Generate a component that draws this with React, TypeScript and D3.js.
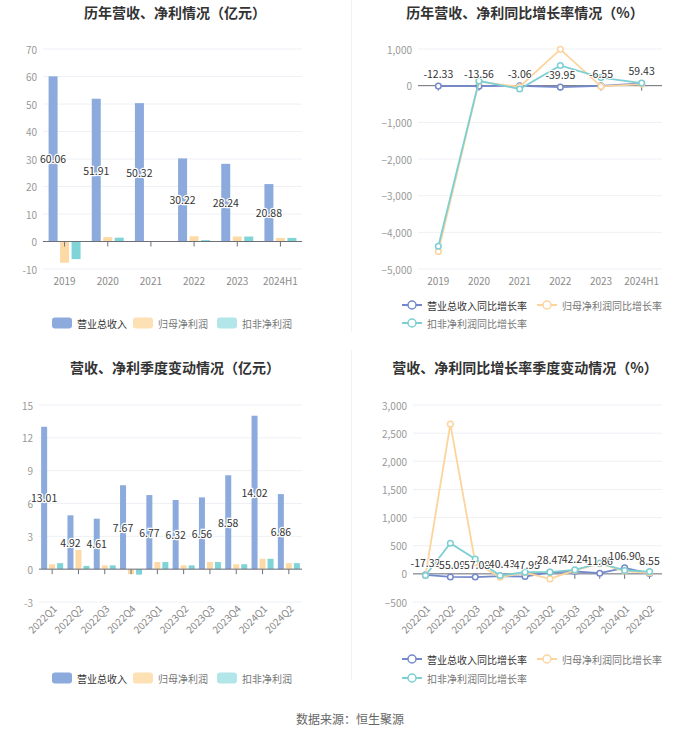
import React from "react";
import * as d3 from "d3";

const FONT = "'Noto Sans CJK SC', 'Noto Sans', sans-serif";

// yearly figures (亿元)
const years = ["2019", "2020", "2021", "2022", "2023", "2024H1"];
const yearRevenue = [60.06, 51.91, 50.32, 30.22, 28.24, 20.88];
const yearProfit = [-7.7, 1.6, 0.15, 1.9, 1.8, 1.3];
const yearDeduct = [-6.4, 1.4, 0.05, 0.5, 1.8, 1.3];

// yearly growth (%)
const yearRevenueGrowth = [-12.33, -13.56, -3.06, -39.95, -6.55, 59.43];
const yearProfitGrowth = [-4520, 110, -30, 990, -20, 40];
const yearDeductGrowth = [-4380, 130, -90, 550, 220, 70];

// quarterly figures (亿元)
const quarters = ["2022Q1", "2022Q2", "2022Q3", "2022Q4", "2023Q1", "2023Q2", "2023Q3", "2023Q4", "2024Q1", "2024Q2"];
const qRevenue = [13.01, 4.92, 4.61, 7.67, 6.77, 6.32, 6.56, 8.58, 14.02, 6.86];
const qProfit = [0.45, 1.75, 0.35, -0.45, 0.65, 0.35, 0.65, 0.45, 0.95, 0.55];
const qDeduct = [0.55, 0.3, 0.35, -0.5, 0.65, 0.35, 0.65, 0.45, 0.95, 0.55];

// quarterly growth (%)
const qRevenueGrowth = [-17.32, -55.09, -57.08, -40.43, -47.95, 28.47, 42.24, 11.86, 106.9, 8.55];
const qProfitGrowth = [-30, 2660, 200, -60, 20, -90, 60, 180, 50, 20];
const qDeductGrowth = [-30, 545, 265, -30, 30, 30, 70, 190, 60, 40];

const barNames = ["营业总收入", "归母净利润", "扣非净利润"];
const lineNames = ["营业总收入同比增长率", "归母净利润同比增长率", "扣非净利润同比增长率"];
const barColors = ["#8caadc", "#fddaa5", "#7fd4d7"];
const barLegendColors = ["#8caadc", "#fde0b4", "#b2e6e8"];
const lineColors = ["#7489cc", "#fcd49c", "#7ccfd3"];

const GRID = "#eef0f5";
const AXIS = "#6e7079";

type Box = { x0: number; x1: number; y0: number; y1: number };

function Title({ x, y, text }: { x: number; y: number; text: string }) {
  return (
    <text x={x} y={y} textAnchor="middle" dominantBaseline="central" fontSize={14} fontWeight="bold" fill="#333">
      {text}
    </text>
  );
}

function XLabels({ cats, xs, y, rotate }: { cats: string[]; xs: number[]; y: number; rotate: boolean }) {
  return (
    <g fontSize={10} fill="#8a8a8a">
      {cats.map((c, i) =>
        rotate ? (
          <text key={c} transform={`translate(${xs[i] + 3},${y + 5}) rotate(-45)`} textAnchor="end" dy="0.35em">
            {c}
          </text>
        ) : (
          <text key={c} x={xs[i]} y={y + 11} textAnchor="middle" dominantBaseline="central">
            {c}
          </text>
        )
      )}
    </g>
  );
}

function YAxis({ y, ticks, box, fmt }: { y: d3.ScaleLinear<number, number>; ticks: number[]; box: Box; fmt: (v: number) => string }) {
  return (
    <g>
      {ticks.map((t) => (
        <g key={t}>
          <line x1={box.x0} x2={box.x1} y1={y(t)} y2={y(t)} stroke={GRID} />
          <text x={box.x0 - 6} y={y(t)} textAnchor="end" dominantBaseline="central" fontSize={10} fill="#999">
            {fmt(t)}
          </text>
        </g>
      ))}
    </g>
  );
}

function BarPanel(props: {
  title: string;
  titleX: number;
  titleY: number;
  cats: string[];
  series: number[][];
  box: Box;
  domain: [number, number];
  step: number;
  barW: number;
  gap: number;
  rotate: boolean;
  legendY: number;
  legendX: number[];
}) {
  const { cats, series, box, domain, step, barW, gap } = props;
  const x = d3.scaleBand<string>().domain(cats).range([box.x0, box.x1]);
  const y = d3.scaleLinear().domain(domain).range([box.y1, box.y0]);
  const ticks = d3.range(domain[0], domain[1] + step / 2, step);
  const groupW = series.length * barW + (series.length - 1) * gap;
  const centers = cats.map((c) => (x(c) as number) + x.bandwidth() / 2);
  return (
    <g fontFamily={FONT}>
      <Title x={props.titleX} y={props.titleY} text={props.title} />
      <YAxis y={y} ticks={ticks} box={box} fmt={(v) => String(v)} />
      {series.map((vals, s) =>
        vals.map((v, i) => {
          const bx = centers[i] - groupW / 2 + s * (barW + gap);
          return (
            <rect key={`${s}-${i}`} x={bx} width={barW} y={Math.min(y(v), y(0))} height={Math.abs(y(v) - y(0))} fill={barColors[s]} />
          );
        })
      )}
      <line x1={box.x0} x2={box.x1} y1={y(0)} y2={y(0)} stroke={AXIS} />
      {centers.map((cx, i) => (
        <line key={i} x1={cx} x2={cx} y1={y(0)} y2={y(0) + 5} stroke={AXIS} />
      ))}
      {series[0].map((v, i) => (
        <text
          key={i}
          x={centers[i] - groupW / 2 + barW / 2}
          y={(y(v) + y(0)) / 2}
          textAnchor="middle"
          dominantBaseline="central"
          fontSize={10.5}
          fill="#333"
          stroke="#fff"
          strokeWidth={2.5}
          paintOrder="stroke"
        >
          {v.toFixed(2)}
        </text>
      ))}
      <XLabels cats={cats} xs={centers} y={box.y1} rotate={props.rotate} />
      {barNames.map((n, s) => (
        <g key={n}>
          <rect x={props.legendX[s]} y={props.legendY - 5.5} width={20} height={11} rx={3} fill={barLegendColors[s]} />
          <text x={props.legendX[s] + 25} y={props.legendY} dominantBaseline="central" fontSize={10} fill={s === 0 ? "#333" : "#777"}>
            {n}
          </text>
        </g>
      ))}
    </g>
  );
}

function LinePanel(props: {
  title: string;
  titleX: number;
  titleY: number;
  cats: string[];
  series: number[][];
  box: Box;
  domain: [number, number];
  step: number;
  rotate: boolean;
  legend: { x: number; y: number }[];
}) {
  const { cats, series, box, domain, step } = props;
  const x = d3.scalePoint<string>().domain(cats).range([box.x0, box.x1]).padding(0.5);
  const y = d3.scaleLinear().domain(domain).range([box.y1, box.y0]);
  const ticks = d3.range(domain[0], domain[1] + step / 2, step);
  const fmt = d3.format(",");
  const xs = cats.map((c) => x(c) as number);
  const line = d3
    .line<number>()
    .x((_, i) => xs[i])
    .y((v) => y(v));
  return (
    <g fontFamily={FONT}>
      <Title x={props.titleX} y={props.titleY} text={props.title} />
      <YAxis y={y} ticks={ticks} box={box} fmt={(v) => fmt(v)} />
      <line x1={box.x0} x2={box.x1} y1={y(0)} y2={y(0)} stroke={AXIS} />
      {xs.map((cx, i) => (
        <line key={i} x1={cx} x2={cx} y1={y(0)} y2={y(0) + 5} stroke={AXIS} />
      ))}
      {series.map((vals, s) => (
        <g key={s}>
          <path d={line(vals) || ""} fill="none" stroke={lineColors[s]} strokeWidth={1.8} />
          {vals.map((v, i) => (
            <circle key={i} cx={xs[i]} cy={y(v)} r={2.8} fill="#fff" stroke={lineColors[s]} strokeWidth={1.5} />
          ))}
        </g>
      ))}
      {series[0].map((v, i) => (
        <text
          key={i}
          x={xs[i]}
          y={y(v) - 8}
          textAnchor="middle"
          fontSize={10.5}
          fill="#333"
          stroke="#fff"
          strokeWidth={2}
          paintOrder="stroke"
        >
          {v.toFixed(2)}
        </text>
      ))}
      <XLabels cats={cats} xs={xs} y={box.y1} rotate={props.rotate} />
      {lineNames.map((n, s) => {
        const p = props.legend[s];
        return (
          <g key={n}>
            <line x1={p.x} x2={p.x + 20} y1={p.y} y2={p.y} stroke={lineColors[s]} strokeWidth={2} />
            <circle cx={p.x + 10} cy={p.y} r={4} fill="#fff" stroke={lineColors[s]} strokeWidth={1.5} />
            <text x={p.x + 25} y={p.y} dominantBaseline="central" fontSize={10} fill={s === 0 ? "#333" : "#777"}>
              {n}
            </text>
          </g>
        );
      })}
    </g>
  );
}

export default function App() {
  return (
    <svg width={700} height={734} style={{ position: "absolute", left: 0, top: 0, background: "#fff" }}>
      <rect width={700} height={734} fill="#fff" />
      <line x1={351.5} x2={351.5} y1={0} y2={332} stroke="#f2f2f2" />
      <line x1={351.5} x2={351.5} y1={350} y2={680} stroke="#f2f2f2" />
      <BarPanel
        title="历年营收、净利情况（亿元）"
        titleX={175}
        titleY={12}
        cats={years}
        series={[yearRevenue, yearProfit, yearDeduct]}
        box={{ x0: 43, x1: 302, y0: 49, y1: 269 }}
        domain={[-10, 70]}
        step={10}
        barW={9}
        gap={2.5}
        rotate={false}
        legendY={323}
        legendX={[52, 133, 217]}
      />
      <LinePanel
        title="历年营收、净利同比增长率情况（%）"
        titleX={525}
        titleY={12}
        cats={years}
        series={[yearRevenueGrowth, yearProfitGrowth, yearDeductGrowth]}
        box={{ x0: 418, x1: 662, y0: 49, y1: 269 }}
        domain={[-5000, 1000]}
        step={1000}
        rotate={false}
        legend={[
          { x: 402, y: 305 },
          { x: 537, y: 305 },
          { x: 402, y: 323 },
        ]}
      />
      <BarPanel
        title="营收、净利季度变动情况（亿元）"
        titleX={175}
        titleY={367}
        cats={quarters}
        series={[qRevenue, qProfit, qDeduct]}
        box={{ x0: 39, x1: 302, y0: 405, y1: 602 }}
        domain={[-3, 15]}
        step={3}
        barW={6}
        gap={2}
        rotate={true}
        legendY={678}
        legendX={[52, 133, 217]}
      />
      <LinePanel
        title="营收、净利同比增长率季度变动情况（%）"
        titleX={525}
        titleY={367}
        cats={quarters}
        series={[qRevenueGrowth, qProfitGrowth, qDeductGrowth]}
        box={{ x0: 413, x1: 662, y0: 405, y1: 602 }}
        domain={[-500, 3000]}
        step={500}
        rotate={true}
        legend={[
          { x: 402, y: 659 },
          { x: 537, y: 659 },
          { x: 402, y: 678 },
        ]}
      />
      <text x={350} y={718} textAnchor="middle" dominantBaseline="central" fontFamily={FONT} fontSize={12} fill="#666">
        数据来源：恒生聚源
      </text>
    </svg>
  );
}
